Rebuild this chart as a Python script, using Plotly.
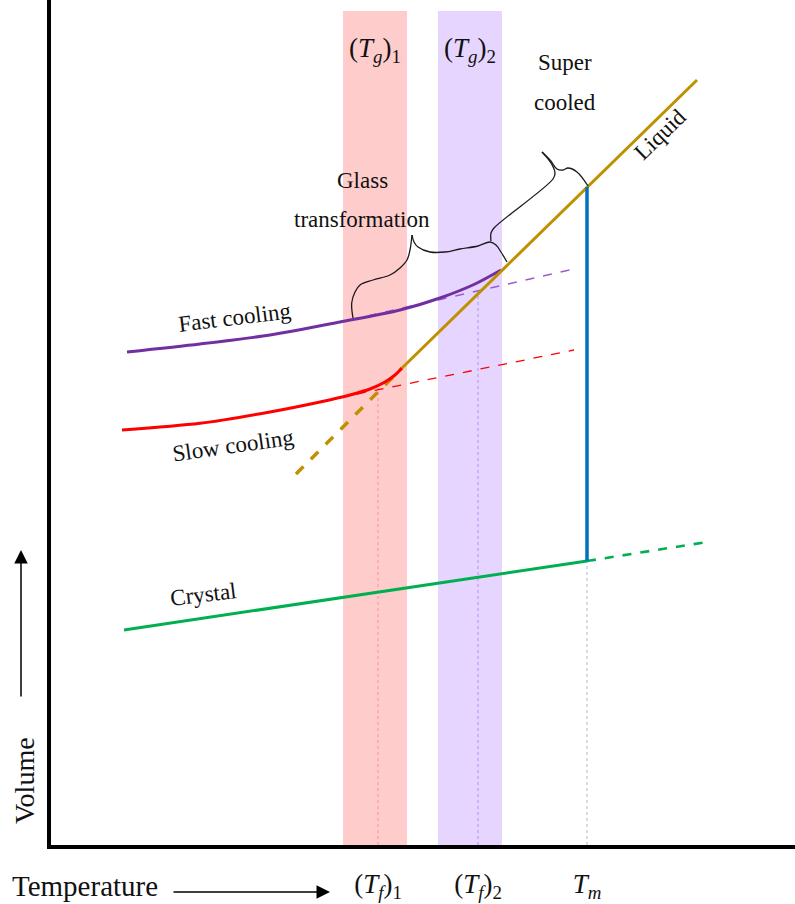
import plotly.graph_objects as go

# ---- schematic data: temperature (T) vs volume (V), arbitrary units ----
liquid_T = [351, 536, 646]
liquid_V = [477, 658, 765]

supercooled_ext_T = [245, 351]
supercooled_ext_V = [371, 477]

melt_T = [536, 536]
melt_V = [284, 658]

crystal_T = [73, 536]
crystal_V = [215, 284]
crystal_ext_T = [536, 656]
crystal_ext_V = [284, 303]

fast_T = [76, 149, 219, 289, 349, 389, 424, 450]
fast_V = [493, 501, 510, 523, 535, 547, 561, 575]
fast_glass_T = [299, 527]
fast_glass_V = [525, 577]

slow_T = [71, 149, 219, 269, 299, 319, 334, 344, 351]
slow_V = [415, 421.7, 433, 443, 450, 456, 463, 470, 477]
slow_glass_T = [306, 523]
slow_glass_V = [451, 495]

# fictive temperatures and melting point
Tf1, Tf2, Tm = 327, 427, 536
Tf1_V, Tf2_V, Tm_V = 457, 553, 284
tick_vals = [Tf1, Tf2, Tm]
tick_text = ["(<i>T</i><sub><i>f</i></sub>)<sub>1</sub>",
             "(<i>T</i><sub><i>f</i></sub>)<sub>2</sub>",
             "<i>T</i><sub><i>m</i></sub>"]

# glass transition ranges
tg1_range = [292, 356]
tg2_range = [387, 451]
band_top = 834

# curly braces
brace1_T = [302, 300.7, 304, 309, 322, 339, 349, 356, 359, 361]
brace1_V = [527, 542, 553, 560, 565, 570, 577, 585, 595, 610]
brace2_T = [361, 363, 367, 379, 394, 409, 427, 439, 445, 450, 456]
brace2_V = [610, 603, 598, 593, 593, 596, 599, 603, 600, 593, 583]
brace3_T = [440, 440, 443, 502, 504, 500, 491]
brace3_V = [604, 612, 617, 666, 672, 682, 693]
brace4_T = [491, 499, 506, 512, 517, 526, 537]
brace4_V = [693, 685, 676, 675, 677, 673, 659]

GOLD = "#BF9000"
BLUE = "#0070C0"
GREEN = "#00B050"
PURPLE = "#7030A0"
RED = "#FF0000"
SERIF = "Liberation Serif"
INK = "#111111"

X_SPAN, Y_SPAN = 744, 845  # axis ranges, used to place outside labels

fig = go.Figure()


def line(x, y, color, width, dash="solid", shape="linear", smooth=1.0):
    fig.add_trace(go.Scatter(x=x, y=y, mode="lines", hoverinfo="skip",
                             line=dict(color=color, width=width, dash=dash,
                                       shape=shape,
                                       smoothing=smooth if shape == "spline" else None),
                             showlegend=False))


# dotted drop lines
line([Tf1, Tf1], [0, Tf1_V], "rgba(255,120,120,0.75)", 1, "dot")
line([Tf2, Tf2], [0, Tf2_V], "rgba(165,120,235,0.75)", 1, "dot")
line([Tm, Tm], [0, Tm_V], "rgba(150,170,200,0.8)", 1, "dot")

# dashed extrapolations
line(fast_glass_T, fast_glass_V, "#9B5BD0", 1.4, "dash")
line(slow_glass_T, slow_glass_V, RED, 1.3, "dash")
line(crystal_ext_T, crystal_ext_V, GREEN, 2.6, "dash")
line(supercooled_ext_T, supercooled_ext_V, GOLD, 3.5, "dash")

# main curves
line(crystal_T, crystal_V, GREEN, 3)
line(fast_T, fast_V, PURPLE, 3, shape="spline", smooth=0.8)
line(slow_T, slow_V, RED, 3, shape="spline", smooth=0.8)
line(liquid_T, liquid_V, GOLD, 3)
line(melt_T, melt_V, BLUE, 3.5)

# braces
for bx, by in [(brace1_T, brace1_V), (brace2_T, brace2_V),
               (brace3_T, brace3_V), (brace4_T, brace4_V)]:
    line(bx, by, "#1a1a1a", 1.3, shape="spline")

shapes = [
    dict(type="rect", xref="x", yref="y", x0=tg1_range[0], x1=tg1_range[1],
         y0=0, y1=band_top, fillcolor="#FFCCCC", line=dict(width=0),
         layer="below"),
    dict(type="rect", xref="x", yref="y", x0=tg2_range[0], x1=tg2_range[1],
         y0=0, y1=band_top, fillcolor="#E6D6FF", line=dict(width=0),
         layer="below"),
]

annotations = []


def label(x, y, text, angle=0, size=23, ref="data"):
    if ref == "paper":
        x, y = x / X_SPAN, y / Y_SPAN
        xr, yr = "paper", "paper"
    else:
        xr, yr = "x", "y"
    annotations.append(dict(x=x, y=y, xref=xr, yref=yr, text=text,
                            showarrow=False, textangle=angle,
                            font=dict(family=SERIF, size=size, color=INK),
                            xanchor="center", yanchor="middle"))


label(sum(tg1_range) / 2, 795, "(<i>T</i><sub><i>g</i></sub>)<sub>1</sub>", size=27)
label(sum(tg2_range) / 2, 795, "(<i>T</i><sub><i>g</i></sub>)<sub>2</sub>", size=27)
label(311, 665, "Glass")
label(311, 626, "transformation")
label(514, 783, "Super")
label(514, 743, "cooled")
label(609, 711, "Liquid", angle=-44)
label(184, 528, "Fast cooling", angle=-7)
label(182, 400, "Slow cooling", angle=-8)
label(152, 251, "Crystal", angle=-7)
label(34, -41, "Temperature", size=29, ref="paper")
label(-27, 65, "Volume", angle=-90, size=28, ref="paper")


def arrow(x, y, ax, ay):
    # head at (x, y) in axis units, tail offset (ax, ay) in pixels
    annotations.append(dict(x=x / X_SPAN, y=y / Y_SPAN, xref="paper",
                            yref="paper", ax=ax, ay=ay, text="",
                            showarrow=True, arrowhead=2, arrowsize=1.8,
                            arrowwidth=1.5, arrowcolor="black"))


arrow(279, -47, -158, 0)
arrow(-30, 295, 0, 148)

fig.update_layout(
    width=795, height=904,
    margin=dict(l=51, r=0, t=0, b=59),
    paper_bgcolor="white", plot_bgcolor="white",
    shapes=shapes, annotations=annotations,
    xaxis=dict(range=[0, X_SPAN], showgrid=False, zeroline=False,
               showline=True, linewidth=4, linecolor="black",
               tickvals=tick_vals, ticktext=tick_text, ticks="",
               ticklabelstandoff=12,
               tickfont=dict(family=SERIF, size=27, color=INK),
               fixedrange=True),
    yaxis=dict(range=[0, Y_SPAN], showgrid=False, zeroline=False,
               showline=True, linewidth=4, linecolor="black",
               showticklabels=False, ticks="", fixedrange=True),
)

fig.write_html("out.html")
